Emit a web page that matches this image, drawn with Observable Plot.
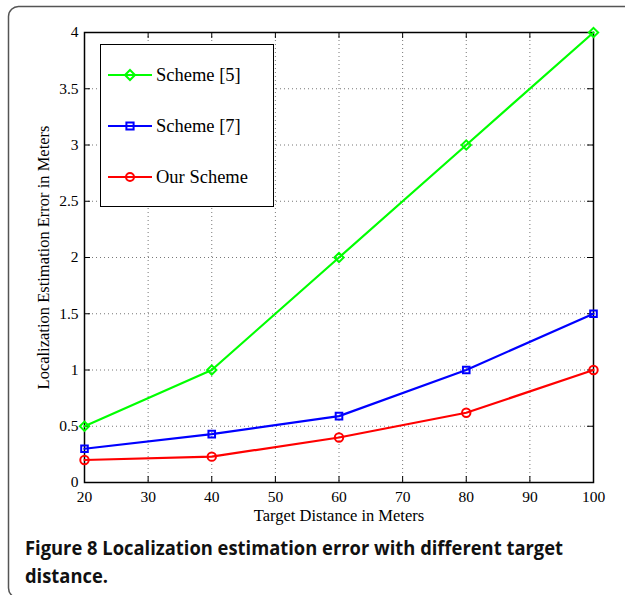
<!DOCTYPE html>
<html>
<head>
<meta charset="utf-8">
<script src="https://cdn.jsdelivr.net/npm/d3@7"></script>
<script src="https://cdn.jsdelivr.net/npm/@observablehq/plot@0.6"></script>
<style>
  html, body { margin: 0; padding: 0; background: #fff; width: 625px; height: 595px; overflow: hidden; }
  #wrap { position: relative; width: 625px; height: 595px; overflow: hidden; }
  #border { position: absolute; left: 0; top: 0; pointer-events: none; }
  #chart { position: absolute; left: 0; top: 0; }
  #legend { position: absolute; left: 100px; top: 44px; width: 174px; height: 163px; border: 1.5px solid #000; background: #fff; box-sizing: border-box; font-family: "Liberation Serif", serif; font-size: 18.5px; color: #000; }
  .item { position: absolute; left: 6px; height: 20px; display: flex; align-items: center; }
  .item svg { margin-right: 3px; }
  .cap { position: absolute; left: 25px; font-family: "Open Sans", sans-serif; font-weight: 700; font-size: 20px; color: #111; white-space: nowrap; transform-origin: 0 0; }
</style>
</head>
<body>
<div id="wrap">
  <div id="chart"></div>
  <div id="legend"></div>
  <div id="cap1" class="cap" style="top:534px">Figure 8 Localization estimation error with different target</div>
  <div id="cap2" class="cap" style="top:562px">distance.</div>
  <svg id="border" width="625" height="595"><path d="M640,6.5 H19 A10,10 0 0 0 8.5,16.5 V588 A10,10 0 0 0 18.5,598" fill="none" stroke="#555" stroke-width="1.5"/></svg>
</div>
<script>
const distances = [20, 40, 60, 80, 100];
const scheme5 = [0.5, 1.0, 2.0, 3.0, 4.0];
const scheme7 = [0.30, 0.43, 0.59, 1.0, 1.5];
const ourScheme = [0.20, 0.23, 0.40, 0.62, 1.0];
const seriesNames = ["Scheme [5]", "Scheme [7]", "Our Scheme"];
const seriesColors = ["#00ff00", "#0000ff", "#ff0000"];
const seriesSymbols = ["diamond2", "square2", "circle"];
const xTicks = [20, 30, 40, 50, 60, 70, 80, 90, 100];
const yTicks = [0, 0.5, 1, 1.5, 2, 2.5, 3, 3.5, 4];
const xLabel = "Target Distance in Meters";
const yLabel = "Localization Estimation Error in Meters";

const seriesValues = [scheme5, scheme7, ourScheme];
const data = [];
seriesNames.forEach((name, i) => {
  distances.forEach((d, j) => data.push({series: name, x: d, y: seriesValues[i][j]}));
});

const W = 625, H = 525, mL = 84, mR = 32, mT = 32, mB = 43;
const innerW = W - mL - mR, innerH = H - mT - mB;
const T = 6;

const plot = Plot.plot({
  width: W, height: H,
  marginLeft: mL, marginRight: mR, marginTop: mT, marginBottom: mB,
  style: {background: "transparent", fontFamily: "Liberation Serif, serif", fontSize: "16px", color: "#000"},
  x: {domain: [20, 100], label: null},
  y: {domain: [0, 4], label: null},
  color: {domain: seriesNames, range: seriesColors},
  symbol: {domain: seriesNames, range: seriesSymbols},
  marks: [
    Plot.ruleX(xTicks.slice(1, -1), {stroke: "#777", strokeDasharray: "1,3", strokeWidth: 1}),
    Plot.ruleY(yTicks.slice(1, -1), {stroke: "#777", strokeDasharray: "1,3", strokeWidth: 1}),
    Plot.tickX(xTicks, {x: d => d, stroke: "#000", insetTop: innerH - T}),
    Plot.tickX(xTicks, {x: d => d, stroke: "#000", insetBottom: innerH - T}),
    Plot.tickY(yTicks, {y: d => d, stroke: "#000", insetRight: innerW - T}),
    Plot.tickY(yTicks, {y: d => d, stroke: "#000", insetLeft: innerW - T}),
    Plot.axisX(xTicks, {anchor: "bottom", tickSize: 0, tickPadding: 8, tickFormat: d => String(d), fontSize: 15.5}),
    Plot.axisY(yTicks, {anchor: "left", tickSize: 0, tickPadding: 6, tickFormat: d => String(d), fontSize: 15.5}),
    Plot.frame({stroke: "#000", strokeWidth: 1.5}),
    Plot.line(data, {x: "x", y: "y", z: "series", stroke: "series", strokeWidth: 2.2}),
    Plot.dot(data, {x: "x", y: "y", stroke: "series", symbol: "series", r: 4.2, strokeWidth: 2, fill: "none"}),
    Plot.text([xLabel], {frameAnchor: "bottom", dy: 38, fontSize: 16.5}),
    Plot.text([yLabel], {frameAnchor: "left", textAnchor: "middle", dx: -41, rotate: -90, fontSize: 16.5})
  ]
});
document.getElementById("chart").appendChild(plot);

// legend
const legend = document.getElementById("legend");
const symPaths = {
  diamond2: "M0,-5L5,0L0,5L-5,0Z",
  square2: "M-3.6,-3.6H3.6V3.6H-3.6Z",
  circle: "M4,0A4,4 0 1,1 -4,0A4,4 0 1,1 4,0"
};
seriesNames.forEach((name, i) => {
  const it = document.createElement("div");
  it.className = "item";
  it.style.top = (20 + i * 51) + "px";
  it.innerHTML = `<svg width="46" height="20"><line x1="1" y1="10" x2="45" y2="10" stroke="${seriesColors[i]}" stroke-width="2.2"/><path transform="translate(23,10)" d="${symPaths[seriesSymbols[i]]}" fill="none" stroke="${seriesColors[i]}" stroke-width="2"/></svg><span>${name}</span>`;
  legend.appendChild(it);
});

// fit caption width
const c1 = document.getElementById("cap1"), c2 = document.getElementById("cap2");
const target = 538;
const s = target / c1.getBoundingClientRect().width;
c1.style.transform = `scaleX(${s})`;
c2.style.transform = `scaleX(${s})`;
</script>
</body>
</html>
